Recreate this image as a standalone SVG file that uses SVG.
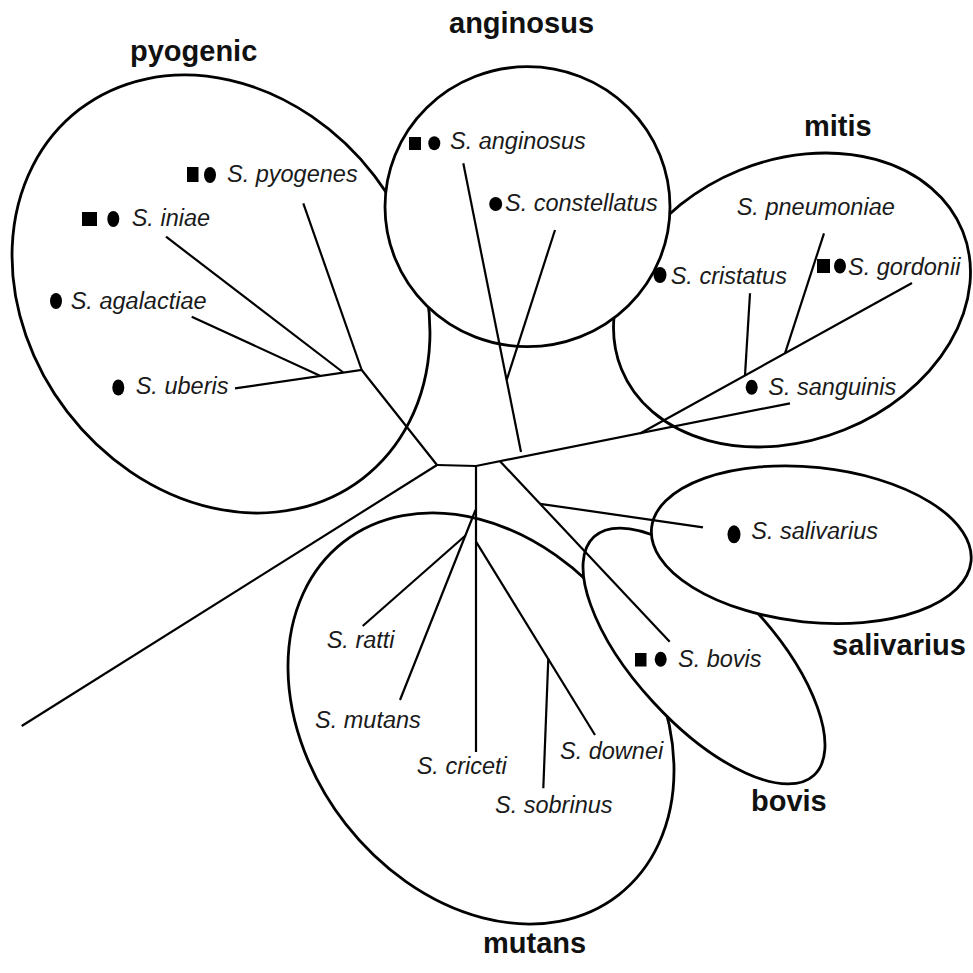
<svg xmlns="http://www.w3.org/2000/svg" width="973" height="973" viewBox="0 0 973 973">
<style>
.cl{fill:#fff;stroke:#000;stroke-width:2.8}
.br{fill:none;stroke:#000;stroke-width:2.2;stroke-linecap:butt;stroke-linejoin:miter}
.sp{font-family:"Liberation Sans",Arial,sans-serif;font-style:italic;font-size:23.5px;fill:#1a1a1a}
.gp{font-family:"Liberation Sans",Arial,sans-serif;font-weight:bold;font-size:29px;fill:#111}
.mk{fill:#000}
</style>
<rect width="973" height="973" fill="#fff"/>
<g id="clusters">
<ellipse id="pyogenic-area" class="cl" cx="221" cy="294" rx="232.6" ry="193.7" transform="rotate(52.5 221 294)"/>
<ellipse id="mitis-area" class="cl" cx="792" cy="300" rx="184" ry="140" transform="rotate(-22 792 300)"/>
<ellipse id="mutans-area" class="cl" cx="481" cy="718.5" rx="223.7" ry="171.6" transform="rotate(52 481 718.5)"/>
<ellipse id="bovis-area" class="cl" cx="704" cy="656" rx="162.2" ry="68.6" transform="rotate(47.3 704 656)"/>
<ellipse id="salivarius-area" class="cl" cx="811.3" cy="544.7" rx="160.6" ry="77.5" transform="rotate(6 811.3 544.7)"/>
<ellipse id="anginosus-area" class="cl" cx="527.5" cy="206.7" rx="142.5" ry="140"/>
</g>
<g id="connectors" class="br">
<path d="M437 465 L21.7 726"/>
<path d="M437 465 L476 466 L790 403.3"/>
<path d="M437 465 L361.7 370 L235 388.3"/>
<path d="M361.7 370 L303.3 203.3"/>
<path d="M343.3 372.5 L166 236.7"/>
<path d="M320 375.8 L191.7 316.7"/>
<path d="M521 452 L463.3 163.3"/>
<path d="M506.7 380 L555 230"/>
<path d="M640 433.5 L912 283"/>
<path d="M745 375.4 L750 293.3"/>
<path d="M785 353.3 L824 233.3"/>
<path d="M500 461.2 L669.7 641.7"/>
<path d="M540 503.8 L703 527.3"/>
<path d="M476 466 L476 752"/>
<path d="M475.5 510 L400 700"/>
<path d="M465.5 535.5 L362.7 626"/>
<path d="M476 541.7 L595 735"/>
<path d="M548.3 658.5 L543.3 788.3"/>
</g>
<g id="group-labels">
<text class="gp" x="130" y="61">pyogenic</text>
<text class="gp" x="449" y="33">anginosus</text>
<text class="gp" x="804" y="136">mitis</text>
<text class="gp" x="832" y="655">salivarius</text>
<text class="gp" x="751" y="811">bovis</text>
<text class="gp" x="483" y="953">mutans</text>
</g>
<g id="s-pyogenes"><rect class="mk" x="187" y="167" width="11.5" height="15"/><ellipse class="mk" cx="210" cy="175" rx="6" ry="8"/><text class="sp" x="227" y="182">S. pyogenes</text></g>
<g id="s-iniae"><rect class="mk" x="82" y="212" width="15" height="14"/><ellipse class="mk" cx="113.3" cy="219" rx="6" ry="8"/><text class="sp" x="131.7" y="225.7">S. iniae</text></g>
<g id="s-agalactiae"><ellipse class="mk" cx="56" cy="301" rx="6" ry="8"/><text class="sp" x="70.7" y="309">S. agalactiae</text></g>
<g id="s-uberis"><ellipse class="mk" cx="118.3" cy="387.5" rx="6" ry="8"/><text class="sp" x="135.7" y="394">S. uberis</text></g>
<g id="s-anginosus"><rect class="mk" x="409" y="137" width="12" height="13"/><ellipse class="mk" cx="434.3" cy="143.3" rx="6" ry="7"/><text class="sp" x="450" y="149">S. anginosus</text></g>
<g id="s-constellatus"><ellipse class="mk" cx="495.7" cy="204" rx="6.5" ry="7"/><text class="sp" x="505" y="211">S. constellatus</text></g>
<g id="s-pneumoniae"><text class="sp" x="736.7" y="215">S. pneumoniae</text></g>
<g id="s-cristatus"><ellipse class="mk" cx="660" cy="275" rx="6.5" ry="8"/><text class="sp" x="670.7" y="284">S. cristatus</text></g>
<g id="s-gordonii"><rect class="mk" x="817" y="259" width="13" height="14"/><ellipse class="mk" cx="840" cy="266" rx="6" ry="7.5"/><text class="sp" x="848" y="275">S. gordonii</text></g>
<g id="s-sanguinis"><ellipse class="mk" cx="751.7" cy="387.3" rx="6" ry="7.5"/><text class="sp" x="768.3" y="395">S. sanguinis</text></g>
<g id="s-salivarius"><ellipse class="mk" cx="734" cy="534.3" rx="6.5" ry="9"/><text class="sp" x="751.3" y="539">S. salivarius</text></g>
<g id="s-bovis"><rect class="mk" x="635" y="653" width="11.5" height="13.5"/><ellipse class="mk" cx="660.7" cy="659.3" rx="6" ry="7.5"/><text class="sp" x="678" y="666.7">S. bovis</text></g>
<g id="s-ratti"><text class="sp" x="326.7" y="648.3">S. ratti</text></g>
<g id="s-mutans"><text class="sp" x="315" y="728.3">S. mutans</text></g>
<g id="s-criceti"><text class="sp" x="416.7" y="774">S. criceti</text></g>
<g id="s-downei"><text class="sp" x="560" y="759.3">S. downei</text></g>
<g id="s-sobrinus"><text class="sp" x="495" y="813.3">S. sobrinus</text></g>
</svg>
